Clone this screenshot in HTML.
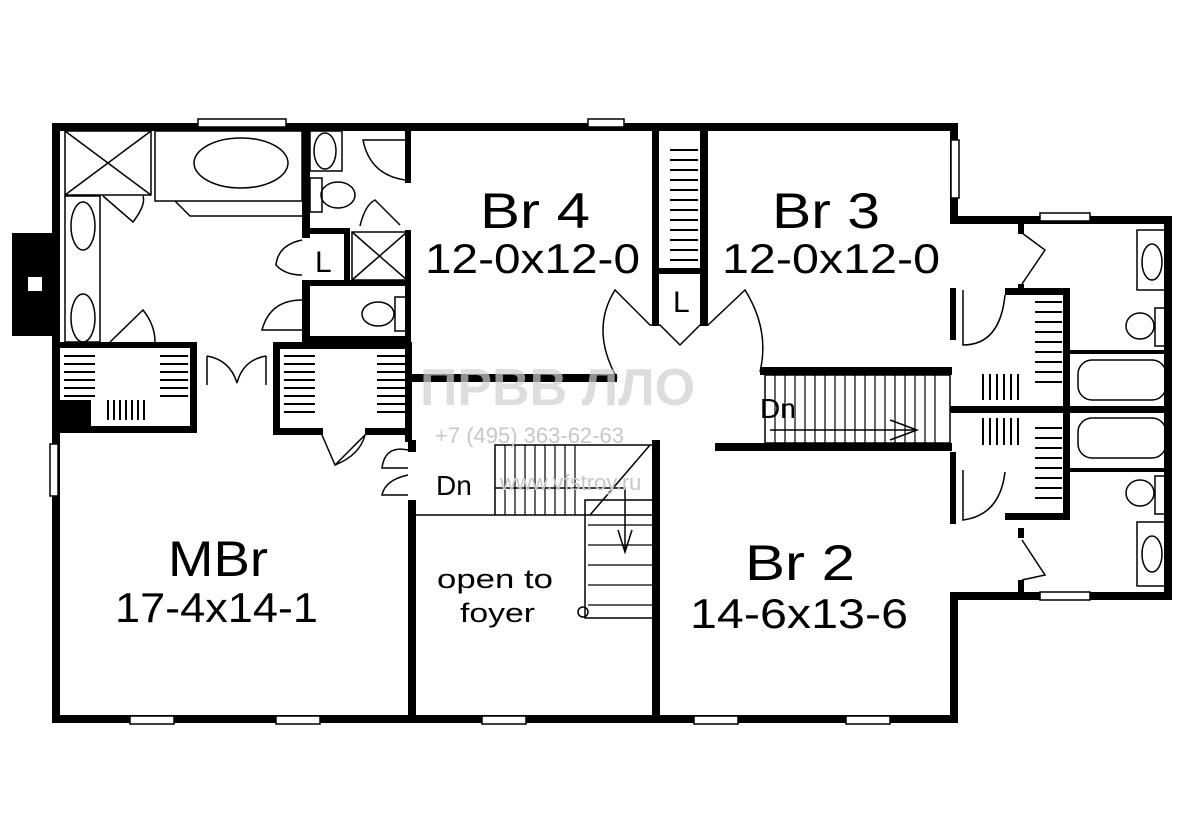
<!DOCTYPE html>
<html><head><meta charset="utf-8"><style>
html,body{margin:0;padding:0;background:#fff;width:1200px;height:839px;overflow:hidden}
svg{display:block}
text{font-family:"Liberation Sans",sans-serif;fill:#000}
</style></head><body>
<svg width="1200" height="839" viewBox="0 0 1200 839" xmlns="http://www.w3.org/2000/svg">
<g fill="#000">
<rect x="52" y="123" width="906" height="8"/>
<rect x="52" y="123" width="8" height="600"/>
<rect x="52" y="715" width="906" height="8"/>
<rect x="950" y="123" width="8" height="100"/>
<rect x="950" y="216" width="222" height="8"/>
<rect x="1164" y="216" width="8" height="384"/>
<rect x="950" y="592" width="222" height="8"/>
<rect x="950" y="592" width="8" height="131"/>
<rect x="12" y="233" width="42" height="103"/>
<rect x="302" y="123" width="8" height="115"/>
<rect x="302" y="280" width="8" height="60"/>
<rect x="302" y="228" width="48" height="6"/>
<rect x="344" y="228" width="6" height="58"/>
<rect x="302" y="280" width="108" height="6"/>
<rect x="302" y="336" width="108" height="6"/>
<rect x="405" y="123" width="6" height="60"/>
<rect x="405" y="230" width="6" height="120"/>
<rect x="55" y="342" width="140" height="6"/>
<rect x="190" y="342" width="7" height="90"/>
<rect x="55" y="426" width="142" height="7"/>
<rect x="55" y="400" width="36" height="30"/>
<rect x="273" y="342" width="138" height="7"/>
<rect x="273" y="342" width="7" height="92"/>
<rect x="273" y="428" width="50" height="7"/>
<rect x="365" y="428" width="46" height="7"/>
<rect x="405" y="342" width="7" height="100"/>
<rect x="408" y="500" width="8" height="220"/>
<rect x="408" y="440" width="8" height="12"/>
<rect x="412" y="374" width="205" height="8"/>
<rect x="760" y="367" width="192" height="8"/>
<rect x="652" y="123" width="7" height="203"/>
<rect x="700" y="123" width="8" height="203"/>
<rect x="652" y="268" width="55" height="6"/>
<rect x="652" y="440" width="8" height="280"/>
<rect x="715" y="443" width="237" height="8"/>
<rect x="950" y="288" width="6" height="52"/>
<rect x="950" y="452" width="6" height="72"/>
<rect x="1005" y="288" width="65" height="7"/>
<rect x="1063" y="288" width="7" height="232"/>
<rect x="950" y="406" width="220" height="7"/>
<rect x="1005" y="513" width="65" height="7"/>
<rect x="1018" y="224" width="6" height="10"/>
<rect x="1018" y="284" width="6" height="10"/>
<rect x="1018" y="528" width="6" height="10"/>
<rect x="1018" y="580" width="6" height="14"/>
<rect x="1066" y="350" width="100" height="4"/>
<rect x="1066" y="468" width="100" height="4"/>
</g>
<rect x="28" y="277" width="14" height="14" fill="#fff"/>
<g fill="#fff" stroke="#000" stroke-width="1.5">
<rect x="198" y="119" width="88" height="8"/>
<rect x="588" y="119" width="36" height="8"/>
<rect x="951" y="140" width="8" height="58"/>
<rect x="1040" y="213" width="50" height="8"/>
<rect x="1040" y="592" width="50" height="8"/>
<rect x="50" y="444" width="8" height="52"/>
<rect x="130" y="716" width="44" height="8"/>
<rect x="276" y="716" width="44" height="8"/>
<rect x="482" y="716" width="44" height="8"/>
<rect x="694" y="716" width="44" height="8"/>
<rect x="846" y="716" width="44" height="8"/>
</g>
<g fill="none" stroke="#000" stroke-width="1.5">
<rect x="65" y="131" width="86" height="64"/>
<line x1="65" y1="131" x2="151" y2="195"/><line x1="151" y1="131" x2="65" y2="195"/>
<rect x="155" y="131" width="147" height="70"/>
<ellipse cx="241" cy="163" rx="47" ry="25"/>
<path d="M175 201 L190 216 L302 216"/>
<rect x="65" y="196" width="35" height="146"/>
<ellipse cx="83" cy="226" rx="12" ry="24"/>
<ellipse cx="83" cy="318" rx="12" ry="24"/>
<path d="M103 196 L133 222 Q146 205 143 196"/>
<rect x="310" y="131" width="32" height="40"/>
<ellipse cx="325" cy="151" rx="11" ry="18"/>
<rect x="310" y="178" width="12" height="34"/>
<ellipse cx="338" cy="195" rx="17" ry="13"/>
<rect x="352" y="232" width="55" height="48"/>
<line x1="352" y1="232" x2="407" y2="280"/><line x1="407" y1="232" x2="352" y2="280"/>
<path d="M405 180 Q370 175 363 140 L405 140"/>
<path d="M360 226 Q365 205 375 200 L400 225"/>
<path d="M302 240 Q278 245 276 265 Q285 275 302 275"/>
<path d="M302 300 Q270 300 262 330 L302 330"/>
<rect x="395" y="297" width="12" height="34"/>
<ellipse cx="378" cy="314" rx="16" ry="12"/>
<path d="M110 342 L143 310 Q155 325 155 342"/>
<path d="M207 356 L207 385 M266 356 L266 385 M207 356 Q230 360 237 383 M266 356 Q243 360 237 383"/>
<path d="M322 435 L335 465 L365 435 Q360 455 335 465"/>
<path d="M408 450 Q385 445 382 468 L408 468 M408 475 Q385 480 382 495 L408 495"/>
<path d="M617 378 Q590 330 615 290 L650 325 L660 325 L680 345 L700 325 L708 325 L745 290 Q770 330 760 372"/>
<path d="M1022 233 L1045 250 L1022 284"/>
<path d="M963 290 L963 345 Q1000 345 1005 295"/>
<path d="M963 470 L963 520 Q1000 515 1005 472"/>
<path d="M1022 540 L1045 575 L1022 580"/>
<rect x="1137" y="230" width="29" height="60"/><ellipse cx="1152" cy="262" rx="10" ry="18"/>
<rect x="1155" y="308" width="11" height="38"/><ellipse cx="1140" cy="326" rx="14" ry="13"/>
<rect x="1078" y="360" width="88" height="40" rx="14"/>
<rect x="1078" y="418" width="88" height="40" rx="14"/>
<rect x="1155" y="476" width="11" height="38"/><ellipse cx="1140" cy="493" rx="14" ry="13"/>
<rect x="1137" y="522" width="29" height="64"/><ellipse cx="1152" cy="554" rx="10" ry="18"/>
<rect x="765" y="375" width="185" height="68"/>
<rect x="495" y="445" width="160" height="70"/>
<rect x="585" y="500" width="70" height="118"/>
<line x1="416" y1="515" x2="495" y2="515"/>
<line x1="770" y1="430" x2="915" y2="430"/><path d="M890 420 L917 430 L890 440"/>
<path d="M495 488 L625 488 L625 550 M618 530 L625 552 L632 530"/>
<line x1="590" y1="515" x2="650" y2="445"/>
<circle cx="583" cy="612" r="5"/>
</g>
<g stroke="#000" stroke-width="1.2">
<path d="M775 375V443M785 375V443M795 375V443M805 375V443M815 375V443M825 375V443M835 375V443M845 375V443M855 375V443M865 375V443M875 375V443M885 375V443M895 375V443M905 375V443M915 375V443M925 375V443M935 375V443"/>
<path d="M505 445V515M515 445V515M525 445V515M535 445V515M545 445V515M555 445V515M565 445V515M575 445V515"/>
<path d="M588 525H652M588 545H652M588 565H652M588 585H652M588 605H652"/>
</g>
<g stroke="#000" stroke-width="2">
<path d="M64 356H95M64 364H95M64 372H95M64 380H95M64 388H95M64 396H95"/>
<path d="M160 356H188M160 364H188M160 372H188M160 380H188M160 388H188M160 396H188"/>
<path d="M108 400V420M114 400V420M120 400V420M126 400V420M132 400V420M138 400V420M144 400V420"/>
<path d="M284 356H315M284 364H315M284 372H315M284 380H315M284 388H315M284 396H315M284 404H315M284 412H315"/>
<path d="M377 356H405M377 364H405M377 372H405M377 380H405M377 388H405M377 396H405M377 404H405M377 412H405"/>
<path d="M670 150H698M670 160H698M670 170H698M670 180H698M670 190H698M670 200H698M670 210H698M670 220H698M670 230H698M670 240H698M670 250H698M670 260H698"/>
<path d="M1035 302H1062M1035 312H1062M1035 322H1062M1035 332H1062M1035 342H1062M1035 352H1062M1035 362H1062M1035 372H1062M1035 382H1062"/>
<path d="M983 374V400M990 374V400M997 374V400M1004 374V400M1011 374V400M1018 374V400"/>
<path d="M983 418V445M990 418V445M997 418V445M1004 418V445M1011 418V445M1018 418V445"/>
<path d="M1035 428H1062M1035 438H1062M1035 448H1062M1035 458H1062M1035 468H1062M1035 478H1062M1035 488H1062M1035 498H1062"/>
</g>
<text x="420" y="405" font-size="52" font-weight="bold" style="fill:#d0d0d0" opacity="0.7">ПРВВ   ЛЛО</text>
<text x="435" y="443" font-size="22" style="fill:#c8c8c8">+7 (495) 363-62-63</text>
<text x="500" y="490" font-size="22" style="fill:#c8c8c8">www.vfstroy.ru</text>
<text x="480" y="228" font-size="50" textLength="110" lengthAdjust="spacingAndGlyphs">Br 4</text>
<text x="425" y="273" font-size="42" textLength="215" lengthAdjust="spacingAndGlyphs">12-0x12-0</text>
<text x="772" y="228" font-size="50" textLength="108" lengthAdjust="spacingAndGlyphs">Br 3</text>
<text x="722" y="273" font-size="42" textLength="218" lengthAdjust="spacingAndGlyphs">12-0x12-0</text>
<text x="168" y="576" font-size="50" textLength="100" lengthAdjust="spacingAndGlyphs">MBr</text>
<text x="115" y="622" font-size="42" textLength="203" lengthAdjust="spacingAndGlyphs">17-4x14-1</text>
<text x="745" y="580" font-size="50" textLength="110" lengthAdjust="spacingAndGlyphs">Br 2</text>
<text x="690" y="628" font-size="42" textLength="218" lengthAdjust="spacingAndGlyphs">14-6x13-6</text>
<text x="437" y="588" font-size="27" textLength="116" lengthAdjust="spacingAndGlyphs">open to</text>
<text x="460" y="622" font-size="27" textLength="75" lengthAdjust="spacingAndGlyphs">foyer</text>
<text x="760" y="418" font-size="28">Dn</text>
<text x="436" y="495" font-size="28">Dn</text>
<text x="315" y="272" font-size="30">L</text>
<text x="673" y="312" font-size="30">L</text>
</svg>
</body></html>
